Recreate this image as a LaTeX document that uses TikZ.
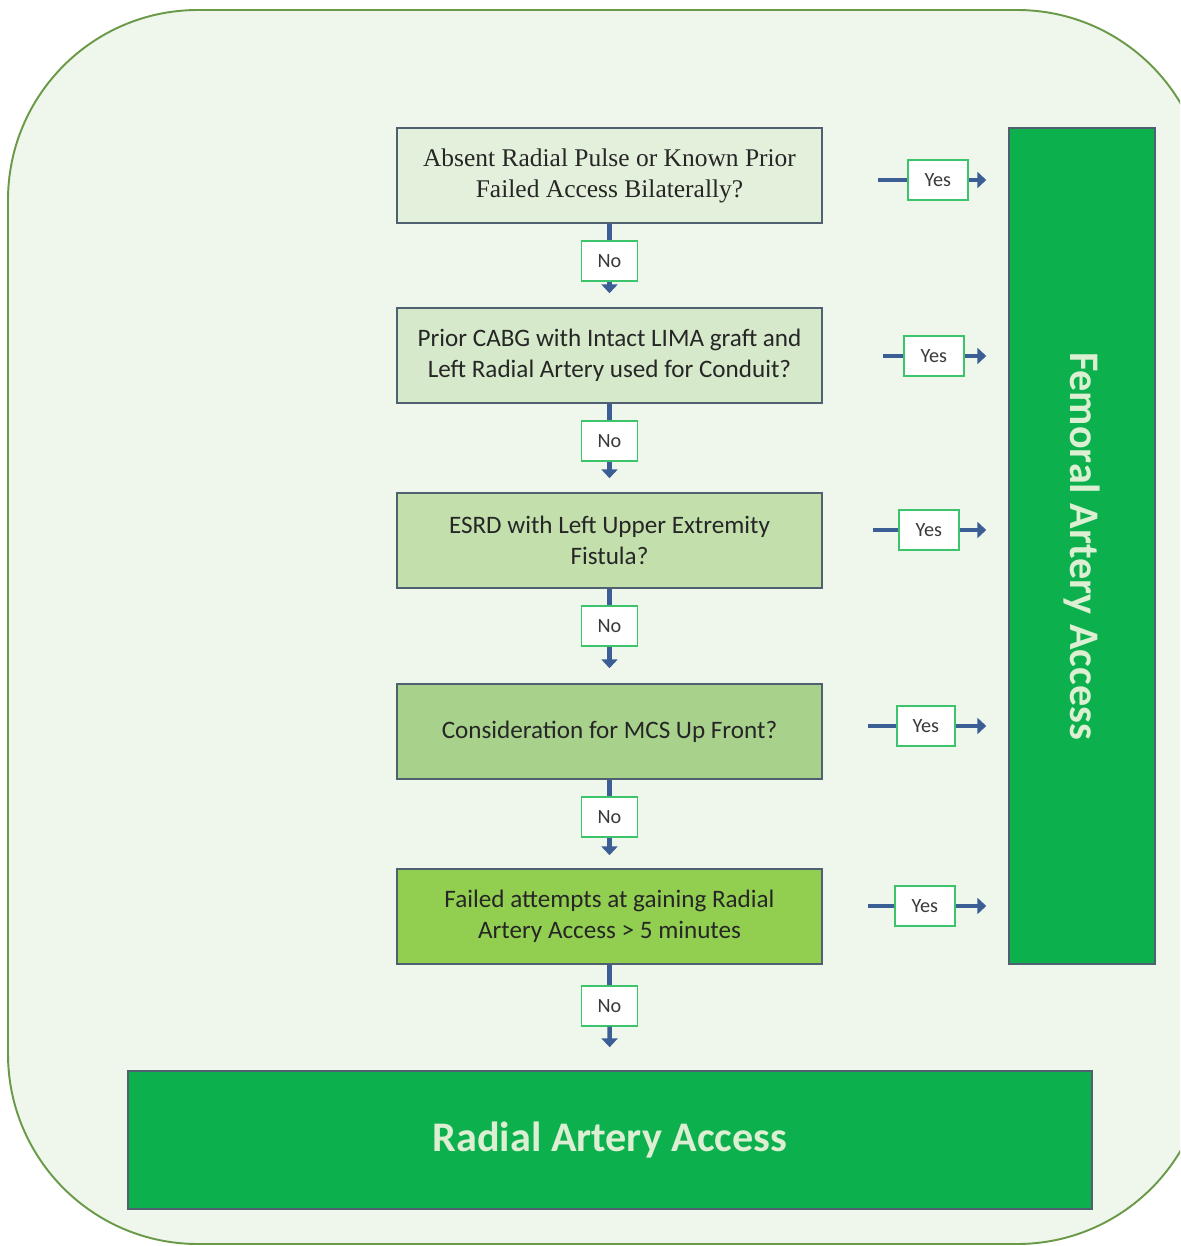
\documentclass[tikz,border=0pt]{standalone}
\usepackage{fontspec}
\setmainfont{Liberation Serif}
\newfontfamily\calfont{Carlito}
\usepackage{graphicx}
\usetikzlibrary{positioning, arrows.meta}

\definecolor{framegreen}{HTML}{6A9A48}
\definecolor{framefill}{HTML}{EFF6EC}
\definecolor{boxedge}{HTML}{4F6070}
\definecolor{tagedge}{HTML}{3CC46A}
\definecolor{flowblue}{HTML}{3B5E94}
\definecolor{textgray}{HTML}{262626}
\definecolor{tagtext}{HTML}{3A3A3A}
\definecolor{accessgreen}{HTML}{0CB04C}
\definecolor{accesstext}{HTML}{DDEFD3}
\definecolor{qfillA}{HTML}{E3F0DB}
\definecolor{qfillB}{HTML}{D6E9CA}
\definecolor{qfillC}{HTML}{C2DFAC}
\definecolor{qfillD}{HTML}{A8D18C}
\definecolor{qfillE}{HTML}{92CF50}

\begin{document}
\begin{tikzpicture}[x=0.02cm, y=-0.02cm,
				QBox/.style={rectangle, draw=boxedge, line width=0.9pt, minimum width=8.5cm, minimum height=1.9cm, align=center, text=textgray, font=\calfont\fontsize{14.3}{17.6}\selectfont},
				TagBox/.style={rectangle, draw=tagedge, fill=white, line width=1pt, minimum width=1.2cm, minimum height=0.8cm, text=tagtext, font=\calfont\fontsize{11.5}{13}\selectfont},
				AccessBox/.style={rectangle, draw=boxedge, fill=accessgreen, line width=0.9pt, text=accesstext, font=\calfont\bfseries\fontsize{24}{29}\selectfont},
				Stem/.style={draw=flowblue, line width=2.6pt},
				Flow/.style={Stem, -{Triangle[width=9pt, length=5pt]}}]

			\useasboundingbox (0,0) rectangle (1180,1246);

			% Frame
			\begin{scope}
				\clip (0,0) rectangle (1180,1246);
				\draw[framegreen, fill=framefill, line width=1.1pt, rounded corners=3.8cm] (8,10) rectangle (1207,1244);
			\end{scope}

			% Nodes
			\node[QBox, fill=qfillA, font=\rmfamily\fontsize{14.5}{17.6}\selectfont] (Pulse) at (609.5,175.5) {Absent Radial Pulse or Known Prior\\Failed Access Bilaterally?};
			\node[QBox, fill=qfillB] (CABG) at (609.5,355.5) {Prior CABG with Intact LIMA graft and\\Left Radial Artery used for Conduit?};
			\node[QBox, fill=qfillC] (ESRD) at (609.5,540.5) {ESRD with Left Upper Extremity\\Fistula?};
			\node[QBox, fill=qfillD] (MCS) at (609.5,731.5) {Consideration for MCS Up Front?};
			\node[QBox, fill=qfillE] (Failed) at (609.5,916.5) {Failed attempts at gaining Radial\\Artery Access > 5 minutes};

			\node[TagBox, minimum width=1.12cm, below=0.33cm of Pulse] (NoPulse) {No};
			\node[TagBox, minimum width=1.12cm, below=0.33cm of CABG] (NoCABG) {No};
			\node[TagBox, minimum width=1.12cm, below=0.33cm of ESRD] (NoESRD) {No};
			\node[TagBox, minimum width=1.12cm, below=0.33cm of MCS] (NoMCS) {No};
			\node[TagBox, minimum width=1.12cm, below=0.4cm of Failed] (NoFailed) {No};

			\coordinate (InPulse) at (878,180);
			\coordinate (InCABG) at (883,356);
			\coordinate (InESRD) at (873,530);
			\coordinate (InMCS) at (868,726);
			\coordinate (InFailed) at (868,906);

			\node[TagBox, right=0.58cm of InPulse] (YesPulse) {Yes};
			\node[TagBox, right=0.4cm of InCABG] (YesCABG) {Yes};
			\node[TagBox, right=0.5cm of InESRD] (YesESRD) {Yes};
			\node[TagBox, minimum width=1.16cm, right=0.56cm of InMCS] (YesMCS) {Yes};
			\node[TagBox, right=0.52cm of InFailed] (YesFailed) {Yes};

			\node[AccessBox, minimum width=2.92cm, minimum height=16.72cm] (Femoral) at (1082,546) {\rotatebox{-90}{Femoral Artery Access}};
			\node[AccessBox, minimum width=19.28cm, minimum height=2.76cm] (Radial) at (610,1140) {Radial Artery Access};

			% Lines
			\draw[Stem] (Pulse) -- (NoPulse);
			\draw[Flow, shorten >=0.28cm] (NoPulse) -- (CABG);
			\draw[Stem] (CABG) -- (NoCABG);
			\draw[Flow, shorten >=0.28cm] (NoCABG) -- (ESRD);
			\draw[Stem] (ESRD) -- (NoESRD);
			\draw[Flow, shorten >=0.3cm] (NoESRD) -- (MCS);
			\draw[Stem] (MCS) -- (NoMCS);
			\draw[Flow, shorten >=0.26cm] (NoMCS) -- (Failed);
			\draw[Stem] (Failed) -- (NoFailed);
			\draw[Flow, shorten >=0.46cm] (NoFailed) -- (Radial);

			\foreach \q in {Pulse, CABG, ESRD, MCS, Failed}{
				\draw[Stem] (In\q) -- (Yes\q);
				\draw[Flow, shorten >=0.44cm] (Yes\q) -- (Yes\q -| Femoral.west);
			}
		\end{tikzpicture}
\end{document}
